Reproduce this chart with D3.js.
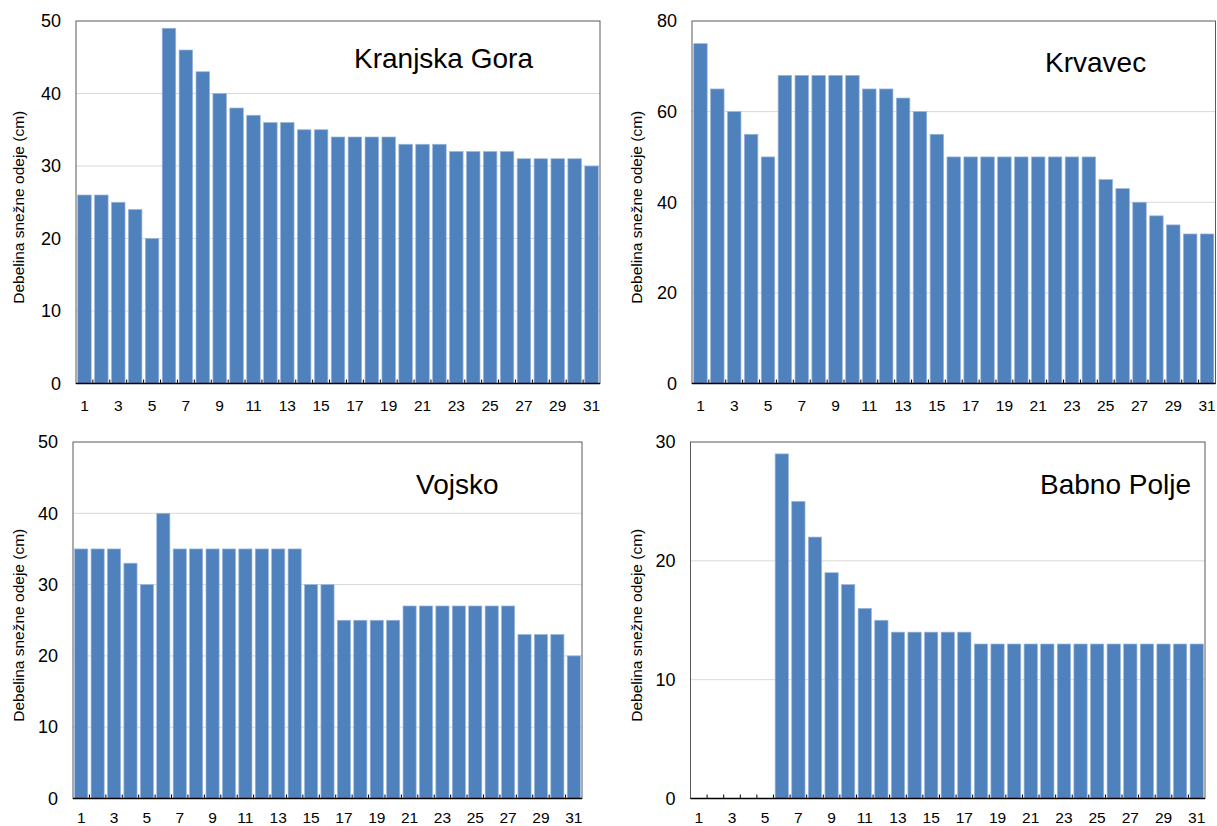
<!DOCTYPE html>
<html>
<head>
<meta charset="utf-8">
<script src="https://cdn.jsdelivr.net/npm/d3@7"></script>
<style>
  html, body { margin: 0; padding: 0; background: #ffffff; }
  svg { display: block; font-family: "Liberation Sans", Arial, sans-serif; }
</style>
</head>
<body>
<svg id="chart" width="1217" height="826"></svg>
<script>
// ---- Data ----
const days = d3.range(1, 32);
const oddDayTicks = days.filter(d => d % 2 === 1);
const yAxisTitle = "Debelina snežne odeje (cm)";

const stationNames = ["Kranjska Gora", "Krvavec", "Vojsko", "Babno Polje"];
const kranjskaGora = [26,26,25,24,20,49,46,43,40,38,37,36,36,35,35,34,34,34,34,33,33,33,32,32,32,32,31,31,31,31,30];
const krvavec = [75,65,60,55,50,68,68,68,68,68,65,65,63,60,55,50,50,50,50,50,50,50,50,50,45,43,40,37,35,33,33];
const vojsko = [35,35,35,33,30,40,35,35,35,35,35,35,35,35,30,30,25,25,25,25,27,27,27,27,27,27,27,23,23,23,20];
const babnoPolje = [null,null,null,null,null,29,25,22,19,18,16,15,14,14,14,14,14,13,13,13,13,13,13,13,13,13,13,13,13,13,13];

const yTicksKG = [0,10,20,30,40,50];
const yTicksKrv = [0,20,40,60,80];
const yTicksVoj = [0,10,20,30,40,50];
const yTicksBab = [0,10,20,30];

// ---- Layout (positions/styles) ----
const panels = [
  { name: stationNames[0], values: kranjskaGora, ticks: yTicksKG, x0: 76,  x1: 600,  y0: 21,  y1: 383.5, titleX: 354,  titleY: 68,  labX: 18, xPad: 16 },
  { name: stationNames[1], values: krvavec,      ticks: yTicksKrv, x0: 692, x1: 1215.5, y0: 21, y1: 383.5, titleX: 1045, titleY: 72,  labX: 636, xPad: 16 },
  { name: stationNames[2], values: vojsko,       ticks: yTicksVoj, x0: 73,  x1: 582,  y0: 442, y1: 798.5, titleX: 416,  titleY: 494, labX: 18, xPad: 13 },
  { name: stationNames[3], values: babnoPolje,   ticks: yTicksBab, x0: 690.5, x1: 1205, y0: 442, y1: 798.5, titleX: 1040, titleY: 494, labX: 636, xPad: 13 }
];

const svg = d3.select("#chart");
const barColor = "#4f81bd";

panels.forEach(p => {
  const g = svg.append("g");
  const x = d3.scaleBand().domain(days).range([p.x0, p.x1]).paddingInner(0.2).paddingOuter(0.1);
  const y = d3.scaleLinear().domain([0, d3.max(p.ticks)]).range([p.y1, p.y0]);

  // gridlines
  g.append("g").selectAll("line").data(p.ticks.filter(t => t > 0 && t < d3.max(p.ticks)))
    .join("line")
    .attr("x1", p.x0).attr("x2", p.x1)
    .attr("y1", d => y(d)).attr("y2", d => y(d))
    .attr("stroke", "#d9d9d9").attr("stroke-width", 1);

  // bars
  const data = days.map((d, i) => ({ day: d, v: p.values[i] })).filter(d => d.v != null);
  g.append("g").selectAll("rect").data(data).join("rect")
    .attr("x", d => x(d.day))
    .attr("width", x.bandwidth())
    .attr("y", d => y(d.v))
    .attr("height", d => y(0) - y(d.v))
    .attr("fill", barColor)
    .attr("stroke", "#9bb7dc")
    .attr("stroke-width", 0.7);

  // frame (top/right/left)
  g.append("rect")
    .attr("x", p.x0).attr("y", p.y0)
    .attr("width", p.x1 - p.x0).attr("height", p.y1 - p.y0)
    .attr("fill", "none").attr("stroke", "#595959").attr("stroke-width", 1);

  // category boundary ticks (pointing up)
  const step = x.step();
  const bounds = d3.range(1, days.length).map(i => x(days[i]) - step * x.paddingInner() / 2);
  g.append("g").selectAll("line").data(bounds).join("line")
    .attr("x1", d => d).attr("x2", d => d)
    .attr("y1", p.y1).attr("y2", p.y1 - 4)
    .attr("stroke", "#000").attr("stroke-width", 1);

  // x axis line
  g.append("line")
    .attr("x1", p.x0).attr("x2", p.x1)
    .attr("y1", p.y1).attr("y2", p.y1)
    .attr("stroke", "#000").attr("stroke-width", 1.5);

  // x axis labels
  const xAxis = d3.axisBottom(x).tickValues(oddDayTicks).tickSize(0).tickPadding(p.xPad);
  const xg = g.append("g").attr("transform", `translate(0,${p.y1})`).call(xAxis);
  xg.select(".domain").remove();
  xg.selectAll("text").attr("font-size", 15.5).attr("fill", "#000")
    .attr("font-family", "Liberation Sans, Arial, sans-serif");

  // y axis labels
  const yAxis = d3.axisLeft(y).tickValues(p.ticks).tickSize(0).tickPadding(15);
  const yg = g.append("g").attr("transform", `translate(${p.x0},0)`).call(yAxis);
  yg.select(".domain").remove();
  yg.selectAll("text").attr("font-size", 18).attr("fill", "#000")
    .attr("font-family", "Liberation Sans, Arial, sans-serif");

  // y axis title
  const cy = (p.y0 + p.y1) / 2 + 5;
  g.append("text")
    .attr("transform", `translate(${p.labX},${cy}) rotate(-90)`)
    .attr("text-anchor", "middle")
    .attr("dominant-baseline", "central")
    .attr("font-size", 15.5)
    .attr("fill", "#000")
    .text(yAxisTitle);

  // station title
  g.append("text")
    .attr("x", p.titleX).attr("y", p.titleY)
    .attr("font-size", 28)
    .attr("fill", "#000")
    .text(p.name);
});
</script>
</body>
</html>
